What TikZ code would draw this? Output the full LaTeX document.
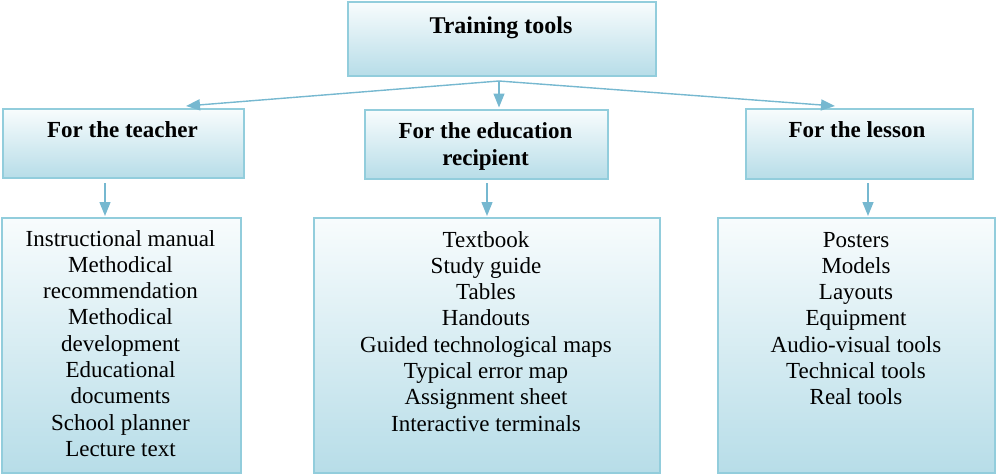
\documentclass[tikz,border=0pt]{standalone}
\usepackage{fontspec}
\setmainfont{Liberation Serif}
\usetikzlibrary{arrows.meta}
\definecolor{bordc}{RGB}{146,205,220}
\definecolor{topc}{RGB}{248,252,253}
\definecolor{botc}{RGB}{183,221,232}
\definecolor{arrc}{RGB}{118,184,208}
\tikzset{
  boxs/.style={draw=bordc, line width=1.8pt, top color=topc, bottom color=botc, inner sep=0pt},
  arr/.style={draw=arrc, line width=1.4pt, -{Triangle[width=11pt,length=14pt]}},
  ttl/.style={anchor=base, inner sep=0pt, font=\fontsize{24}{27}\selectfont\bfseries},
  body/.style={anchor=base, inner sep=0pt}
}
\newcommand{\bodytext}[1]{\parbox[t]{340pt}{\centering\fontsize{23}{26.3}\selectfont #1}}
\newcommand{\hdrtext}[1]{\parbox[t]{240pt}{\centering\fontsize{23}{27}\selectfont\bfseries #1}}
\begin{document}
\begin{tikzpicture}[x=1pt,y=-1pt]
\useasboundingbox (0,0) rectangle (996,474);
% boxes
\node[boxs, minimum width=308pt, minimum height=74pt, anchor=north west] (top) at (347,1) {};
\node[boxs, minimum width=241pt, minimum height=69pt, anchor=north west] (h1) at (2,108) {};
\node[boxs, minimum width=243pt, minimum height=69pt, anchor=north west] (h2) at (364,109) {};
\node[boxs, minimum width=227pt, minimum height=70pt, anchor=north west] (h3) at (745,108) {};
\node[boxs, minimum width=239pt, minimum height=255pt, anchor=north west] (b1) at (1,217) {};
\node[boxs, minimum width=346pt, minimum height=255pt, anchor=north west] (b2) at (313,217) {};
\node[boxs, minimum width=277pt, minimum height=255pt, anchor=north west] (b3) at (717,217) {};
% texts
\node[ttl] (ttop) at (501,33) {Training tools};
\node[body] (th1) at (122.5,137) {\hdrtext{For the teacher}};
\node[body] (th2) at (485.5,138) {\hdrtext{For the education\\recipient}};
\node[body] (th3) at (857,137) {\hdrtext{For the lesson}};
\node[body] (tb1) at (120.5,246) {\bodytext{Instructional manual\\Methodical\\recommendation\\Methodical\\development\\Educational\\documents\\School planner\\Lecture text}};
\node[body] (tb2) at (486,247) {\bodytext{Textbook\\Study guide\\Tables\\Handouts\\Guided technological maps\\Typical error map\\Assignment sheet\\Interactive terminals}};
\node[body] (tb3) at (856,247) {\bodytext{Posters\\Models\\Layouts\\Equipment\\Audio-visual tools\\Technical tools\\Real tools}};
% connectors
\coordinate (split) at (499,81);
\coordinate (e1) at (186,106);
\coordinate (e2) at (499,107.5);
\coordinate (e3) at (835,106);
\draw[arr] (split) -- (e1);
\draw[arr] (split) -- (e2);
\draw[arr] (split) -- (e3);
\coordinate (d1s) at (105,183);
\coordinate (d1e) at (105,216);
\coordinate (d2s) at (487,183);
\coordinate (d2e) at (487,216);
\coordinate (d3s) at (868,183);
\coordinate (d3e) at (868,216);
\draw[arr] (d1s) -- (d1e);
\draw[arr] (d2s) -- (d2e);
\draw[arr] (d3s) -- (d3e);
\end{tikzpicture}
\end{document}
